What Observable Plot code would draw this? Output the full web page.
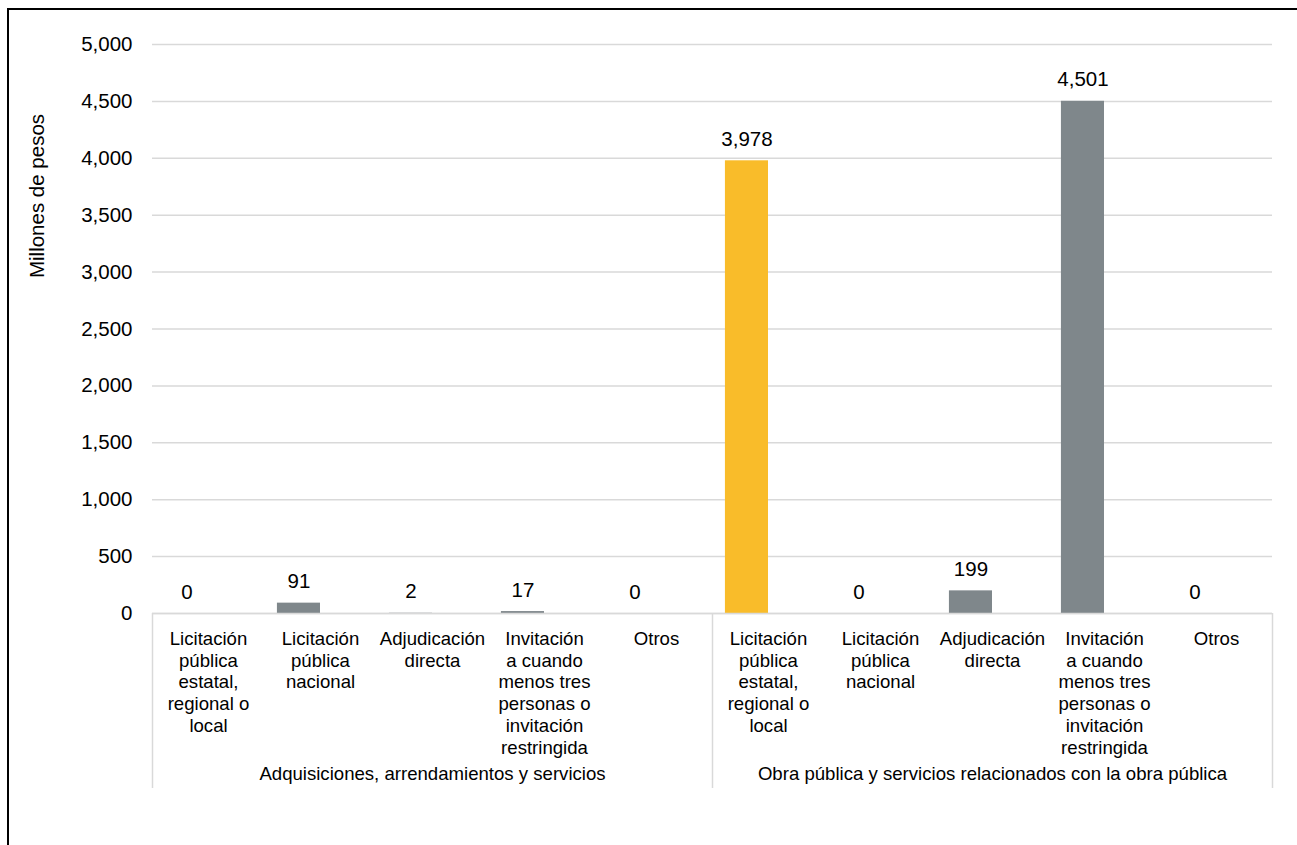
<!DOCTYPE html>
<html>
<head>
<meta charset="utf-8">
<script src="https://cdn.jsdelivr.net/npm/d3@7"></script>
<script src="https://cdn.jsdelivr.net/npm/@observablehq/plot@0.6"></script>
<style>
  html, body { margin: 0; padding: 0; background: #fff; overflow: hidden; }
  body { width: 1297px; height: 845px; position: relative; font-family: "Liberation Sans", Arial, sans-serif; }
  #frame { position: absolute; left: 7px; top: 8px; width: 1400px; height: 1000px; border: 2px solid #000; box-sizing: border-box; pointer-events: none; }
  #chart { position: absolute; left: 0; top: 0; }
  #ytitle { position: absolute; left: 37px; top: 196px; transform: translate(-50%, -50%) rotate(-90deg); white-space: nowrap; font-size: 20.5px; color: #000; }
</style>
</head>
<body>
<div id="chart"></div>
<div id="ytitle">Millones de pesos</div>
<div id="frame"></div>
<script>
// ---- data ----
const keys = ["A1", "A2", "A3", "A4", "A5", "O1", "O2", "O3", "O4", "O5"];
const categoryLabels = [
  "Licitación\npública\nestatal,\nregional o\nlocal",
  "Licitación\npública\nnacional",
  "Adjudicación\ndirecta",
  "Invitación\na cuando\nmenos tres\npersonas o\ninvitación\nrestringida",
  "Otros",
  "Licitación\npública\nestatal,\nregional o\nlocal",
  "Licitación\npública\nnacional",
  "Adjudicación\ndirecta",
  "Invitación\na cuando\nmenos tres\npersonas o\ninvitación\nrestringida",
  "Otros"
];
const values = [0, 91, 2, 17, 0, 3978, 0, 199, 4501, 0];
const highlight = [false, false, false, false, false, true, false, false, false, false];
const groupNames = ["Adquisiciones, arrendamientos y servicios", "Obra pública y servicios relacionados con la obra pública"];
const groupCenterKeys = ["A3", "O3"];
const groupStartKeys = ["A1", "O1"];
const groupEndKeys = ["O5"];
const yTicks = [0, 500, 1000, 1500, 2000, 2500, 3000, 3500, 4000, 4500, 5000];

const rows = keys.map((k, i) => ({key: k, label: categoryLabels[i], value: values[i], hl: highlight[i]}));
const groups = groupNames.map((g, i) => ({name: g, key: groupCenterKeys[i]}));

// ---- layout ----
const W = 1297, H = 845;
const mL = 152, mR = 25, mT = 44, mB = 232;
const band = (W - mL - mR) / keys.length; // 112
const barW = band / 2.6;                  // clustered bar (second series empty)
const gapSide = (band - 2 * barW) / 2;
const barOffset = -barW / 2;              // centre of first bar relative to band centre
const fsNum = 20.5;
const fsCat = 18.6;
const grid = "#d9d9d9";
const yellow = "#f9bc2a";
const gray = "#7f878b";

const chart = Plot.plot({
  width: W,
  height: H,
  marginLeft: mL, marginRight: mR, marginTop: mT, marginBottom: mB,
  style: {fontFamily: '"Liberation Sans", Arial, sans-serif', fontSize: fsCat + "px", color: "#000", background: "transparent"},
  x: {type: "band", domain: keys, padding: 0, axis: null},
  y: {domain: [0, 5000], axis: null},
  marks: [
    Plot.gridY(yTicks, {stroke: grid, strokeOpacity: 1, strokeWidth: 1.5}),
    Plot.axisY(yTicks, {tickSize: 0, tickPadding: 20, tickFormat: d3.format(","), fontSize: fsNum, label: null}),
    Plot.barY(rows.filter(d => d.value > 0), {
      x: "key", y: "value",
      fill: d => d.hl ? yellow : gray,
      insetLeft: gapSide, insetRight: gapSide + barW
    }),
    Plot.ruleY([0], {stroke: grid, strokeWidth: 1.5}),
    // group separators
    Plot.ruleX(groupStartKeys, {x: d => d, dx: -band / 2, stroke: grid, strokeWidth: 1.5, insetTop: H - mT - mB, insetBottom: -175}),
    Plot.ruleX(groupEndKeys, {x: d => d, dx: band / 2, stroke: grid, strokeWidth: 1.5, insetTop: H - mT - mB, insetBottom: -175}),
    // value labels
    Plot.text(rows, {
      x: "key", y: "value", text: d => d3.format(",")(d.value),
      dx: barOffset, dy: -15, lineAnchor: "bottom", fontSize: fsNum, fill: "#000"
    }),
    // category labels
    Plot.text(rows, {
      x: "key", text: "label", frameAnchor: "bottom", lineAnchor: "top",
      dy: 16, lineHeight: 1.17, fontSize: fsCat, fill: "#000"
    }),
    // group labels
    Plot.text(groups, {
      x: "key", text: "name", frameAnchor: "bottom", lineAnchor: "bottom",
      dy: 166, fontSize: fsCat, fill: "#000"
    })
  ]
});
document.getElementById("chart").appendChild(chart);
</script>
</body>
</html>
